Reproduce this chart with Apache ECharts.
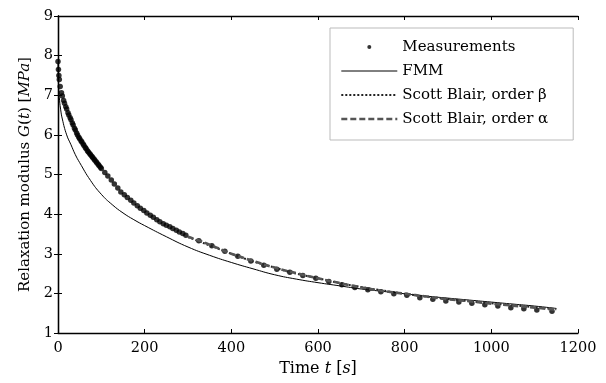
<!DOCTYPE html>
<html><head><meta charset="utf-8">
<script src="https://cdn.jsdelivr.net/npm/echarts@6/dist/echarts.min.js"></script>
<style>html,body{margin:0;padding:0;background:#fff}#c{width:606px;height:383px}</style>
</head><body><div id="c"></div>
<script>
const measT = [0,1,2,3,5,8,10,13,15,18,20,23,25,28,30,33,35,38,40,43,45,48,50,53,55,58,60,63,65,68,70,73,75,78,80,83,85,88,90,93,95,98,100,108,115,123,130,138,145,153,160,168,175,183,190,198,205,213,220,228,235,243,250,258,265,273,280,288,295,325,355,385,415,445,475,505,535,565,595,625,655,685,715,745,775,805,835,865,895,925,955,985,1015,1045,1075,1105,1140];
const measV = [7.85,7.65,7.5,7.4,7.22,7.06,6.98,6.87,6.8,6.71,6.65,6.56,6.5,6.43,6.38,6.3,6.25,6.17,6.12,6.05,6.0,5.94,5.9,5.85,5.82,5.77,5.73,5.68,5.65,5.6,5.57,5.53,5.5,5.46,5.43,5.39,5.36,5.32,5.29,5.25,5.22,5.18,5.15,5.05,4.96,4.86,4.76,4.66,4.56,4.49,4.42,4.35,4.28,4.21,4.15,4.09,4.03,3.97,3.92,3.86,3.81,3.76,3.72,3.68,3.64,3.59,3.55,3.51,3.47,3.33,3.2,3.06,2.94,2.82,2.71,2.61,2.53,2.45,2.38,2.3,2.22,2.15,2.09,2.04,1.99,1.95,1.89,1.85,1.81,1.78,1.75,1.71,1.68,1.64,1.61,1.58,1.55];
const fmmT = [0,1,3,6,10,20,30,40,50,75,100,125,150,175,200,250,300,350,400,450,500,550,600,650,700,750,800,850,900,950,1000,1050,1100,1150];
const fmmV = [7.8,7.3,6.95,6.65,6.4,6.0,5.75,5.5,5.3,4.85,4.5,4.24,4.03,3.86,3.71,3.43,3.17,2.96,2.78,2.62,2.47,2.36,2.27,2.19,2.11,2.05,1.99,1.93,1.88,1.83,1.78,1.73,1.68,1.62];
const sbT = [300,350,400,450,500,550,600,650,700,750,800,850,900,950,1000,1050,1100,1150];
const sbBeta = [3.42,3.21,3.0,2.81,2.65,2.5,2.38,2.26,2.16,2.07,1.99,1.92,1.86,1.8,1.75,1.7,1.65,1.6];
const sbAlpha = [3.43,3.23,3.0,2.82,2.65,2.51,2.38,2.26,2.15,2.06,1.99,1.92,1.85,1.8,1.74,1.69,1.64,1.59];
const xTicks = [0,200,400,600,800,1000,1200];
const yTicks = [1,2,3,4,5,6,7,8,9];
const names = ['Measurements','FMM','Scott Blair, order \u03b2','Scott Blair, order \u03b1'];

const zip = (a,b)=>a.map((v,i)=>[v,b[i]]);
const font = 'DejaVu Serif';
const fs = 14.5;
const chart = echarts.init(document.getElementById('c'));
const axBase = {axisLine:{show:true,lineStyle:{color:'#000',width:1.3}},axisTick:{show:true,inside:true,length:4,lineStyle:{color:'#000'}},splitLine:{show:false}};
const mkRich = s => ({a:{fontFamily:font,fontSize:s,color:'#000'},i:{fontFamily:font,fontSize:s,fontStyle:'italic',color:'#000'}});
const hideSym = {opacity:0};
chart.setOption({
  animation:false,
  backgroundColor:'#fff',
  grid:{left:58,right:28,top:16,bottom:50},
  legend:{
    data:[
      {name:names[0],icon:'circle'},
      {name:names[1],itemStyle:hideSym,lineStyle:{width:1}},
      {name:names[2],itemStyle:hideSym,lineStyle:{width:2}},
      {name:names[3],itemStyle:hideSym,lineStyle:{width:2.6}}
    ],
    orient:'vertical',left:330,top:28,
    itemWidth:56,itemHeight:4,itemGap:6,
    padding:[10,25,12,10],
    borderColor:'#bbb',borderWidth:1,backgroundColor:'#fff',
    textStyle:{fontFamily:font,fontSize:15,color:'#000',lineHeight:18}
  },
  xAxis:[
    Object.assign({type:'value',min:xTicks[0],max:xTicks[xTicks.length-1],interval:200,position:'bottom',
      name:'{a|Time }{i|t}{a| [}{i|s}{a|]}',nameLocation:'middle',nameGap:24,
      nameTextStyle:{rich:mkRich(16)},
      axisLabel:{fontFamily:font,fontSize:fs,color:'#000',margin:8,formatter:v=>String(v)}},axBase),
    Object.assign({type:'value',min:0,max:1200,interval:200,position:'top',axisLabel:{show:false}},axBase)
  ],
  yAxis:[
    Object.assign({type:'value',min:yTicks[0],max:yTicks[yTicks.length-1],interval:1,position:'left',
      name:'{a|Relaxation modulus }{i|G}{a|(}{i|t}{a|) [}{i|MPa}{a|]}',nameLocation:'middle',nameGap:25,nameRotate:90,
      nameTextStyle:{rich:mkRich(15)},
      axisLabel:{fontFamily:font,fontSize:fs,color:'#000',margin:5}},axBase),
    Object.assign({type:'value',min:1,max:9,interval:1,position:'right',axisLabel:{show:false}},axBase)
  ],
  series:[
    {name:names[0],type:'scatter',data:zip(measT,measV),symbol:'circle',symbolSize:5.5,itemStyle:{color:'#000'},z:3},
    {name:names[1],type:'line',data:zip(fmmT,fmmV),smooth:true,showSymbol:false,symbol:'none',lineStyle:{color:'#000',width:1},itemStyle:{color:'#000'},z:2},
    {name:names[2],type:'line',data:zip(sbT,sbBeta),smooth:true,showSymbol:false,symbol:'none',lineStyle:{color:'#222',width:2,type:[2,2]},itemStyle:{color:'#222'},z:4},
    {name:names[3],type:'line',data:zip(sbT,sbAlpha),smooth:true,showSymbol:false,symbol:'none',lineStyle:{color:'#555',width:2.6,type:[6,3]},itemStyle:{color:'#555'},z:5}
  ]
});
</script></body></html>
